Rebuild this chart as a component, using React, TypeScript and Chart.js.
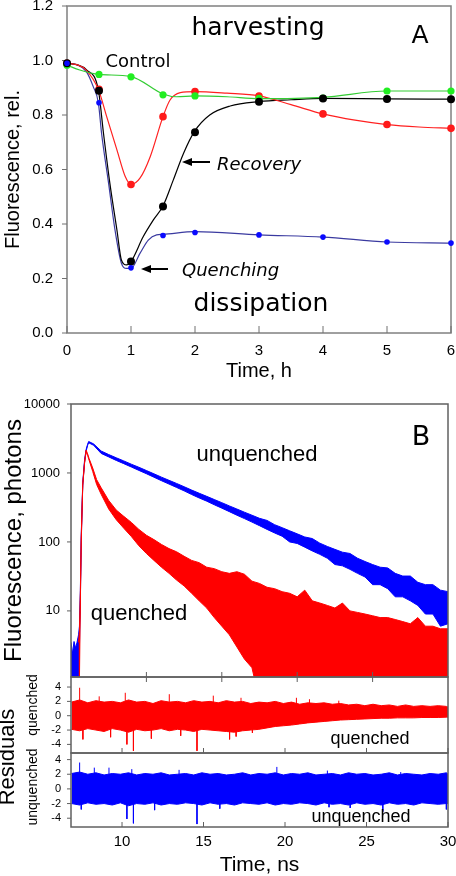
import React, { useEffect, useRef } from "react";
import { Chart, registerables } from "chart.js";
Chart.register(...registerables);

const W = 456;
const H = 876;
const SANS = '"Liberation Sans", Arial, sans-serif';
const DJ = '"DejaVu Sans", Verdana, sans-serif';
Chart.defaults.font.family = SANS;
Chart.defaults.color = "#000";

// ---------------- Panel A data ----------------
const hours = [0, 0.5, 1, 1.5, 2, 3, 4, 5, 6];
const controlDots = [0.983, 0.949, 0.94, 0.874, 0.87, 0.861, 0.862, 0.888, 0.888];
const redDots = [0.99, 0.894, 0.545, 0.794, 0.886, 0.87, 0.804, 0.765, 0.751];
const recoveryDots = [0.99, 0.889, 0.262, 0.464, 0.737, 0.849, 0.861, 0.859, 0.858];
const quenchingDots = [0.99, 0.845, 0.239, 0.358, 0.369, 0.36, 0.352, 0.334, 0.33];

const controlFitT = [0, 0.2, 0.5, 1, 1.5, 1.71, 2, 2.5, 3, 4, 5, 6];
const controlFitV = [0.983, 0.965, 0.949, 0.941, 0.877, 0.867, 0.87, 0.867, 0.86, 0.865, 0.888, 0.888];
const redFitT = [0, 0.15, 0.3, 0.49, 0.62, 0.78, 0.91, 1, 1.14, 1.3, 1.5, 1.61, 1.77, 2, 2.5, 3, 3.5, 4, 4.5, 5, 5.5, 6];
const redFitV = [0.99, 0.985, 0.965, 0.894, 0.794, 0.672, 0.574, 0.545, 0.568, 0.647, 0.794, 0.855, 0.882, 0.886, 0.88, 0.87, 0.838, 0.804, 0.781, 0.765, 0.756, 0.751];
const recoveryFitT = [0, 0.15, 0.31, 0.49, 0.57, 0.67, 0.78, 0.85, 0.93, 1, 1.19, 1.35, 1.5, 1.66, 1.82, 1.99, 2.23, 2.55, 3, 3.5, 4, 5, 6];
const recoveryFitV = [0.99, 0.985, 0.965, 0.892, 0.733, 0.549, 0.378, 0.268, 0.25, 0.262, 0.353, 0.415, 0.466, 0.561, 0.659, 0.739, 0.8, 0.833, 0.849, 0.856, 0.861, 0.859, 0.858];
const quenchingFitT = [0, 0.15, 0.3, 0.41, 0.49, 0.54, 0.65, 0.75, 0.85, 0.93, 1, 1.14, 1.27, 1.4, 1.5, 2, 3, 4, 5, 6];
const quenchingFitV = [0.99, 0.985, 0.96, 0.904, 0.845, 0.733, 0.549, 0.378, 0.256, 0.237, 0.237, 0.292, 0.341, 0.36, 0.362, 0.372, 0.36, 0.352, 0.334, 0.33];

// ---------------- Panel B decay data (ns, photons) ----------------
const decayTimeTicks = [10, 15, 20, 25];
const decadeTicks = [10, 100, 1000, 10000];

const blueT = [5.0, 5.1, 5.2, 5.3, 5.4, 5.5, 5.56, 5.62, 5.68, 5.78, 5.9, 6.0, 6.1, 6.17, 6.5, 7.0, 7.5, 8.0, 8.5, 9.0, 9.5, 10.0, 10.5, 11.0, 11.5, 12.0, 12.5, 13.0, 13.5, 14.0, 14.5, 15.0, 15.5, 16.0, 16.5, 17.0, 17.5, 18.0, 18.5, 19.0, 19.5, 20.0, 20.5, 21.0, 21.5, 22.0, 22.5, 23.0, 23.5, 24.0, 24.5, 25.0, 25.5, 26.0, 26.5, 27.0, 27.5, 28.0, 28.5, 29.0, 29.5, 30.0];
const blueHi = [3.5, 2.4, 3.6, 2.9, 3.5, 4.5, 6, 20, 130, 730, 1550, 2180, 2600, 2860, 2640, 2080, 1850, 1660, 1495, 1340, 1210, 1085, 972, 870, 782, 705, 632, 565, 508, 458, 412, 371, 333, 300, 270, 244, 220, 205, 178, 161, 145, 131, 118, 112, 96, 86, 78, 71, 68, 58, 52, 47, 43, 42, 35, 32, 32, 26, 24, 24, 20, 19];
const blueLo = [0.5, 0.5, 0.5, 0.5, 0.5, 0.5, 3, 14, 105, 670, 1420, 2060, 2500, 2740, 2520, 1920, 1710, 1520, 1365, 1220, 1090, 975, 868, 772, 690, 617, 550, 487, 434, 390, 346, 309, 275, 244, 218, 194, 172, 152, 135, 121, 100, 95, 84, 74, 66, 58, 47, 45, 40, 35, 31, 24, 24, 21, 16, 16, 14, 12, 9, 9, 6, 6.5];

const redT = [5.5, 5.56, 5.62, 5.68, 5.78, 5.9, 6.0, 6.1, 6.2, 6.44, 6.7, 7.0, 7.5, 8.0, 8.5, 9.0, 9.5, 10.0, 10.5, 11.0, 11.5, 12.0, 12.5, 13.0, 13.5, 14.0, 14.5, 15.0, 15.5, 16.0, 16.5, 17.0, 17.5, 18.0, 18.5, 19.0, 19.5, 20.0, 20.5, 21.0, 21.5, 22.0, 22.5, 23.0, 23.5, 24.0, 24.5, 25.0, 25.5, 26.0, 26.5, 27.0, 27.5, 28.0, 28.5, 29.0, 29.5, 30.0];
const redHi = [3.5, 5, 18, 120, 700, 1450, 2150, 1900, 1620, 1180, 800, 610, 400, 290, 235, 192, 152, 125, 108, 92, 80, 72, 62, 54, 50, 43, 41, 37, 35, 37, 34, 27, 25, 22, 21, 19, 18, 16, 20, 14, 13, 12, 11, 13, 10, 9.5, 9, 8.5, 8, 8, 7.5, 7, 6.5, 8, 6, 6, 5.5, 5.5];
const redLo = [0.5, 1, 13, 100, 660, 1380, 2050, 1800, 1530, 1050, 680, 490, 300, 210, 158, 120, 88, 68, 54, 43, 35, 28, 23, 18, 14, 11, 8, 6, 4.5, 3, 2, 1.5, 0.5, 0.5, 0.5, 0.5, 0.5, 0.5, 0.5, 0.5, 0.5, 0.5, 0.5, 0.5, 0.5, 0.5, 0.5, 0.5, 0.5, 0.5, 0.5, 0.5, 0.5, 0.5, 0.5, 0.5, 0.5, 0.5];

// ---------------- Residual data ----------------
const resTimeTicks = [10, 15, 20, 25, 30];
const resValueTicks = [-4, -2, 0, 2, 4];
const resT = [6.9, 7.4, 7.9, 8.4, 8.9, 9.4, 9.9, 10.4, 10.9, 11.4, 11.9, 12.4, 12.9, 13.4, 13.9, 14.4, 14.9, 15.4, 15.9, 16.4, 16.9, 17.4, 17.9, 18.4, 18.9, 19.4, 19.9, 20.4, 20.9, 21.4, 21.9, 22.4, 22.9, 23.4, 23.9, 24.4, 24.9, 25.4, 25.9, 26.4, 26.9, 27.4, 27.9, 28.4, 28.9, 29.4, 29.9, 30];
const resQHi = [1.9, 2.2, 1.8, 2.1, 1.9, 2.0, 1.8, 2.2, 1.9, 2.0, 1.7, 2.1, 1.9, 2.0, 1.8, 2.1, 1.9, 2.0, 1.8, 2.1, 1.9, 2.0, 1.7, 1.9, 1.8, 2.0, 1.7, 1.9, 1.6, 1.8, 1.7, 1.8, 1.6, 1.7, 1.5, 1.6, 1.4, 1.6, 1.4, 1.5, 1.3, 1.5, 1.3, 1.4, 1.3, 1.4, 1.3, 1.2];
const resQLo = [-1.9, -2.1, -1.8, -2.0, -2.2, -1.8, -2.0, -2.3, -1.9, -2.1, -2.0, -1.8, -2.1, -1.9, -2.0, -2.2, -1.9, -2.0, -2.1, -2.2, -2.3, -2.1, -2.0, -1.9, -1.7, -1.5, -1.4, -1.3, -1.15, -1.0, -0.9, -0.8, -0.7, -0.6, -0.55, -0.5, -0.45, -0.4, -0.35, -0.35, -0.3, -0.3, -0.3, -0.25, -0.25, -0.25, -0.2, -0.2];
const resUHi = [2.1, 2.3, 2.0, 2.2, 1.9, 2.1, 2.0, 2.2, 1.9, 2.1, 2.0, 2.2, 1.9, 2.0, 2.1, 1.9, 2.2, 2.0, 2.1, 1.9, 2.0, 2.2, 1.9, 2.1, 2.0, 2.2, 1.9, 2.1, 2.0, 2.2, 1.9, 2.0, 2.1, 1.9, 2.2, 2.0, 2.1, 1.9, 2.0, 2.2, 1.9, 2.1, 2.0, 1.9, 2.1, 2.0, 2.2, 2.0];
const resULo = [-2.0, -2.2, -1.9, -2.1, -2.0, -2.2, -1.9, -2.3, -2.0, -2.1, -1.9, -2.2, -2.0, -2.1, -1.9, -2.0, -2.2, -1.9, -2.1, -2.0, -2.2, -1.9, -2.0, -2.1, -1.9, -2.2, -2.0, -2.1, -1.9, -2.0, -2.2, -1.9, -2.1, -2.0, -2.2, -1.9, -2.1, -2.0, -2.2, -1.9, -2.1, -2.0, -2.2, -1.9, -2.0, -2.1, -2.0, -2.0];
const resQSpikeT = [7.4, 7.6, 8.6, 9.3, 10.2, 10.3, 10.7, 11.8, 12.9, 13.6, 14.6, 15.6, 16.6, 17.0, 17.3, 18.0, 20.7, 21.5, 23.3];
const resQSpikeV = [3.9, -3.3, 2.7, -3.0, 3.2, -4.0, -4.9, -3.2, 3.0, -2.8, -4.9, 2.8, -3.3, -2.9, 2.5, -2.4, 2.5, 2.3, 2.1];
const resUSpikeT = [7.4, 7.5, 8.3, 9.2, 10.3, 10.6, 10.7, 12.0, 13.5, 14.6, 16.0, 19.5, 22.6, 22.7, 24.0, 26.0, 27.1, 29.9];
const resUSpikeV = [3.6, -2.8, 2.9, 2.9, -4.1, 2.7, -4.7, -2.9, 2.6, -4.8, -2.7, 3.0, 2.5, -2.5, -2.6, -3.1, 2.3, -2.8];

// ---------------- helpers ----------------
const pts = (xs: number[], ys: number[]) => xs.map((x, i) => ({ x, y: ys[i] }));
const spikes = (xs: number[], ys: number[]) =>
  xs.flatMap((x, i) => [{ x, y: 0 }, { x, y: ys[i] }, { x, y: null }]);

function fixFit(size: number, dim: "width" | "height") {
  return (s: any) => {
    s[dim] = size;
    s.paddingTop = 0;
    s.paddingBottom = 0;
    s.paddingLeft = 0;
    s.paddingRight = 0;
  };
}
function seg(ctx: any, x1: number, y1: number, x2: number, y2: number) {
  ctx.beginPath();
  ctx.moveTo(x1, y1);
  ctx.lineTo(x2, y2);
  ctx.stroke();
}
function txt(ctx: any, s: string, x: number, y: number, font: string, align = "center", rot = 0) {
  ctx.save();
  ctx.font = font;
  ctx.fillStyle = "#000";
  ctx.textAlign = align;
  ctx.textBaseline = "middle";
  ctx.translate(x, y);
  if (rot) ctx.rotate(rot);
  ctx.fillText(s, 0, 0);
  ctx.restore();
}
function arrowLeft(ctx: any, xTail: number, xHead: number, y: number) {
  ctx.save();
  ctx.strokeStyle = "#000";
  ctx.fillStyle = "#000";
  ctx.lineWidth = 2;
  seg(ctx, xHead + 6, y, xTail, y);
  ctx.beginPath();
  ctx.moveTo(xHead, y);
  ctx.lineTo(xHead + 10, y - 4);
  ctx.lineTo(xHead + 10, y + 4);
  ctx.closePath();
  ctx.fill();
  ctx.restore();
}
function frame(ctx: any, a: any, color: string) {
  ctx.save();
  ctx.strokeStyle = color;
  ctx.lineWidth = 1.5;
  ctx.strokeRect(a.left, a.top, a.right - a.left, a.bottom - a.top);
  ctx.restore();
}
const baseOpts = (padding: any) => ({
  animation: false,
  responsive: false,
  maintainAspectRatio: false,
  devicePixelRatio: 1,
  events: [],
  layout: { padding },
  plugins: { legend: { display: false }, tooltip: { enabled: false } },
});
const hidden = { grid: { display: false, drawTicks: false }, border: { display: false } };

const band = (T: number[], Hi: number[], Lo: number[], color: string, order: number) => [
  { data: pts(T, Hi), borderColor: color, backgroundColor: color, borderWidth: 1, pointRadius: 0, fill: "+1", order, tension: 0 },
  { data: pts(T, Lo), borderColor: color, backgroundColor: color, borderWidth: 1, pointRadius: 0, fill: false, order, tension: 0 },
];

// ---------------- Panel A ----------------
const panelAPlugin = {
  id: "panelA",
  beforeDatasetsDraw(chart: any) {
    const { ctx, chartArea: a, scales } = chart;
    frame(ctx, a, "#808080");
    ctx.save();
    ctx.strokeStyle = "#707070";
    ctx.lineWidth = 1;
    scales.x.ticks.forEach((t: any) => {
      const p = scales.x.getPixelForValue(t.value);
      seg(ctx, p, a.bottom, p, a.bottom - 7);
    });
    scales.y.ticks.forEach((t: any) => {
      const p = scales.y.getPixelForValue(t.value);
      seg(ctx, a.left - 5, p, a.left, p);
    });
    ctx.restore();
  },
  afterDraw(chart: any) {
    const { ctx } = chart;
    txt(ctx, "harvesting", 258, 28, `25px ${DJ}`);
    txt(ctx, "A", 420, 36, `25px ${DJ}`);
    txt(ctx, "Control", 138, 62, `18px ${DJ}`);
    txt(ctx, "Recovery", 217, 165, `italic 18px ${DJ}`, "left");
    arrowLeft(ctx, 210, 182, 162);
    txt(ctx, "Quenching", 182, 271, `italic 18px ${DJ}`, "left");
    arrowLeft(ctx, 168, 141, 269);
    txt(ctx, "dissipation", 261, 304, `25px ${DJ}`);
  },
};

const curve = (T: number[], V: number[], color: string) => ({
  data: pts(T, V), borderColor: color, borderWidth: 1.2, pointRadius: 0, fill: false,
  cubicInterpolationMode: "monotone", order: 10,
});
const dots = (V: number[], color: string, r: number, order: number) => ({
  data: pts(hours, V), showLine: false, pointRadius: r, pointBackgroundColor: color,
  pointBorderColor: color, pointBorderWidth: 0, order, clip: false,
});

const configA = () => ({
  type: "line",
  data: {
    datasets: [
      curve(controlFitT, controlFitV, "#33cc33"),
      curve(redFitT, redFitV, "#ff2020"),
      curve(recoveryFitT, recoveryFitV, "#000000"),
      curve(quenchingFitT, quenchingFitV, "#3a3aa0"),
      dots(redDots, "#ff1a1a", 3.8, 3),
      dots(controlDots, "#22ee22", 3.6, 2),
      dots(recoveryDots, "#000000", 4, 1),
      dots(quenchingDots, "#0a0aff", 2.8, 0),
    ],
  },
  options: {
    ...baseOpts({ left: 0, top: 6, right: 5, bottom: H - 390 }),
    scales: {
      x: {
        type: "linear", min: 0, max: 6, ...hidden,
        ticks: { stepSize: 1, font: { size: 15 }, color: "#000", padding: 8.5, maxRotation: 0, autoSkip: false },
        title: { display: true, text: "Time, h", font: { size: 20 }, color: "#000", padding: { top: 0, bottom: 7 } },
        afterFit: fixFit(57, "height"),
      },
      y: {
        type: "linear", min: 0, max: 1.2, ...hidden,
        ticks: { stepSize: 0.2, callback: (v: any) => Number(v).toFixed(1), font: { size: 15 }, color: "#000", padding: 14 },
        title: { display: true, text: "Fluorescence, rel.", font: { size: 20 }, color: "#000", padding: { top: 1, bottom: 0 } },
        afterFit: fixFit(67, "width"),
      },
    },
  },
  plugins: [panelAPlugin],
});

// ---------------- Panel B decay ----------------
const panelBPlugin = {
  id: "panelB",
  afterDatasetsDraw(chart: any) {
    const { ctx, chartArea: a, scales } = chart;
    frame(ctx, a, "#606060");
    ctx.save();
    ctx.strokeStyle = "#606060";
    ctx.lineWidth = 1;
    scales.y.ticks.forEach((t: any) => {
      const p = scales.y.getPixelForValue(t.value);
      seg(ctx, a.left - 4, p, a.left, p);
    });
    decayTimeTicks.forEach((v) => {
      const p = scales.x.getPixelForValue(v);
      seg(ctx, p, a.bottom - 5, p, a.bottom + 5);
    });
    ctx.restore();
    txt(ctx, "unquenched", 257, 455, `22px ${SANS}`);
    txt(ctx, "quenched", 139, 614, `22px ${SANS}`);
    txt(ctx, "B", 421, 438, `27px ${DJ}`);
  },
};

const configB = () => ({
  type: "line",
  data: {
    datasets: [...band(redT, redHi, redLo, "#ff0000", 0), ...band(blueT, blueHi, blueLo, "#0000ff", 1)],
  },
  options: {
    ...baseOpts({ left: 0, top: 404, right: 8, bottom: H - 677 }),
    scales: {
      x: { type: "linear", min: 5, max: 30, display: false },
      y: {
        type: "logarithmic", min: 1.1, max: 10000, ...hidden,
        afterBuildTicks: (s: any) => { s.ticks = decadeTicks.map((v) => ({ value: v })); },
        ticks: { callback: (v: any) => String(v), font: { size: 13 }, color: "#000", padding: 11 },
        title: { display: true, text: "Fluorescence, photons", font: { size: 24 }, color: "#000", padding: { top: 0, bottom: 0 } },
        afterFit: fixFit(71, "width"),
      },
    },
  },
  plugins: [panelBPlugin],
});

// ---------------- Residual panels ----------------
const makeResPlugin = (id: string, inner: string, innerX: number, innerY: number, side: string, sideY: number, withTitle: boolean) => ({
  id,
  afterDatasetsDraw(chart: any) {
    const { ctx, chartArea: a, scales } = chart;
    frame(ctx, a, "#606060");
    ctx.save();
    ctx.strokeStyle = "#606060";
    ctx.lineWidth = 1;
    scales.y.ticks.forEach((t: any) => {
      const p = scales.y.getPixelForValue(t.value);
      seg(ctx, a.left - 4, p, a.left, p);
    });
    resTimeTicks.forEach((v) => {
      const p = scales.x.getPixelForValue(v);
      seg(ctx, p, a.bottom, p, a.bottom - 5);
    });
    ctx.restore();
    txt(ctx, inner, innerX, innerY, `18px ${SANS}`);
    txt(ctx, side, 33, sideY, `14px ${SANS}`, "center", -Math.PI / 2);
    if (withTitle) txt(ctx, "Residuals", 8, 757, `22px ${SANS}`, "center", -Math.PI / 2);
  },
});

const resY = (min: number, max: number) => ({
  type: "linear", min, max, ...hidden,
  afterBuildTicks: (s: any) => { s.ticks = resValueTicks.map((v) => ({ value: v })); },
  ticks: { font: { size: 11 }, color: "#000", padding: 10 },
  afterFit: fixFit(71, "width"),
});

const spikeSet = (T: number[], V: number[], color: string) => ({
  data: spikes(T, V), borderColor: color, borderWidth: 1, pointRadius: 0, fill: false, spanGaps: false, order: 0,
});

const configR1 = () => ({
  type: "line",
  data: {
    datasets: [spikeSet(resQSpikeT, resQSpikeV, "#ff0000"), ...band(resT, resQHi, resQLo, "#ff0000", 1)],
  },
  options: {
    ...baseOpts({ left: 0, top: 677, right: 8, bottom: H - 753 }),
    scales: {
      x: { type: "linear", min: 6.87, max: 30, display: false },
      y: resY(-5.2, 5.4),
    },
  },
  plugins: [makeResPlugin("r1", "quenched", 370, 739, "quenched", 705, false)],
});

const configR2 = () => ({
  type: "line",
  data: {
    datasets: [spikeSet(resUSpikeT, resUSpikeV, "#0000ff"), ...band(resT, resUHi, resULo, "#0000ff", 1)],
  },
  options: {
    ...baseOpts({ left: 0, top: 753, right: 8, bottom: 0 }),
    scales: {
      x: {
        type: "linear", min: 6.87, max: 30, ...hidden,
        afterBuildTicks: (s: any) => { s.ticks = resTimeTicks.map((v) => ({ value: v })); },
        ticks: { font: { size: 15 }, color: "#000", padding: 6, maxRotation: 0, autoSkip: false },
        title: { display: true, text: "Time, ns", font: { size: 21 }, color: "#000", padding: { top: 0, bottom: -2 } },
        afterFit: fixFit(49, "height"),
      },
      y: resY(-5.2, 4.9),
    },
  },
  plugins: [makeResPlugin("r2", "unquenched", 361, 817, "unquenched", 787, true)],
});

// ---------------- React ----------------
function ChartCanvas({ make }: { make: () => any }) {
  const ref = useRef<HTMLCanvasElement | null>(null);
  useEffect(() => {
    const chart = new Chart(ref.current as HTMLCanvasElement, make());
    return () => chart.destroy();
  }, []);
  return (
    <canvas
      ref={ref}
      width={W}
      height={H}
      style={{ position: "absolute", left: 0, top: 0, width: W, height: H }}
    />
  );
}

export default function App() {
  return (
    <div style={{ position: "absolute", left: 0, top: 0, width: W, height: H, background: "#fff", overflow: "hidden" }}>
      <ChartCanvas make={configA} />
      <ChartCanvas make={configB} />
      <ChartCanvas make={configR1} />
      <ChartCanvas make={configR2} />
    </div>
  );
}
